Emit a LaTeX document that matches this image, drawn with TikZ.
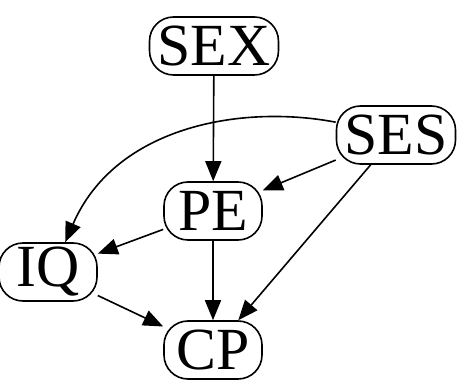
\documentclass[tikz,border=0pt]{standalone}
\usepackage{fontspec}
\setmainfont{Liberation Serif}
\usetikzlibrary{arrows.meta,positioning,calc}

\tikzset{var/.style={draw,rectangle,rounded corners=24bp,line width=1.6bp,
    minimum height=58bp,minimum width=98bp,inner xsep=8bp,
    font=\fontsize{60}{60}\selectfont}}

\begin{document}
\begin{tikzpicture}[>={Triangle[length=20bp,width=16bp]},line width=1.6bp]
\useasboundingbox (0bp,0bp) rectangle (460bp,389bp);
%%
\node (SEX) at (214bp,343bp) [var] {SEX};
  \node (SES) at (396bp,254bp) [var] {SES};
  \node (PE) at (213bp,178bp) [var] {PE};
  \node (IQ) at (48bp,117bp) [var] {IQ};
  \node (CP) at (213bp,39bp) [var] {CP};
  \draw [->] (SEX) -- (PE);
  \draw [->] (SES) -- (PE);
  \draw [->] (SES.168) ..controls (240bp,285bp) and (115bp,262bp)  .. (IQ.60);
  \draw [->] (SES) -- (CP);
  \draw [->] (PE) -- (IQ);
  \draw [->] (PE) -- (CP);
  \draw [->] (IQ) -- (CP);
%
\end{tikzpicture}
\end{document}
